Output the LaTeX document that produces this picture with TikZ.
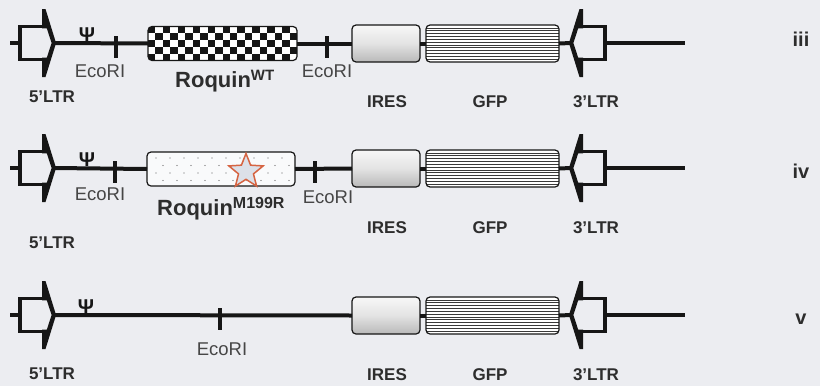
\documentclass[tikz,border=0pt]{standalone}
\usepackage{fontspec}
\setmainfont{Liberation Sans}
\usetikzlibrary{shapes.geometric,calc}
\definecolor{bg}{RGB}{236,237,241}
\definecolor{ink}{RGB}{22,22,22}
\definecolor{txt}{RGB}{45,45,45}
\definecolor{ecotxt}{RGB}{70,70,70}
\definecolor{starred}{RGB}{214,100,66}
\definecolor{starfill}{RGB}{220,224,232}
\tikzset{
  dna/.style={line width=4pt, draw=ink},
  cut/.style={line width=3.5pt, draw=ink},
  ltrline/.style={line width=3.6pt, draw=ink, line join=miter},
  part/.style={draw=ink, line width=1.2pt, rounded corners=4pt, inner sep=0pt, outer sep=0pt},
  ires/.style={part, top color=gray!6, bottom color=gray!55, middle color=gray!22},
  lbl/.style={font=\fontsize{17}{19}\selectfont\bfseries, text=txt, inner sep=0pt, anchor=base},
  eco/.style={font=\fontsize{18.5}{20}\selectfont, text=ecotxt, inner sep=0pt, anchor=base},
  gene/.style={font=\fontsize{22}{24}\selectfont\bfseries, text=txt, inner sep=0pt, anchor=base west},
  psi/.style={font=\fontsize{20}{22}\selectfont\bfseries, text=ink, inner sep=0pt, anchor=base},
  rowlbl/.style={font=\fontsize{20}{22}\selectfont\bfseries, text=txt, inner sep=0pt, anchor=base},
}
\newcommand{\ltrglyph}{%
  \draw[ltrline] (44,-16.5) -- (20,-16.5) -- (20,16.5) -- (44,16.5);
  \fill[ink] (42,-34) -- (45.5,-34) -- (55.5,-1.8) -- (55.5,1.8) -- (45.5,34) -- (42,34)
     -- (42,14.7) -- (46.8,14.7) -- (51.6,0) -- (46.8,-14.7) -- (42,-14.7) -- cycle;
}
\newcommand{\fiveltr}[1]{%
  \coordinate (#1stub) at (10,0);
  \coordinate (#1boxl) at (21,0);
  \coordinate (#1tip) at (54,0);
  \draw[dna] (#1stub) -- (#1boxl);
  \ltrglyph
}
\newcommand{\threeltr}[1]{%
  \begin{scope}[shift={(625,0)},xscale=-1]\ltrglyph\end{scope}
  \coordinate (#1tipb) at (571,0);
  \coordinate (#1boxr) at (604,0);
  \coordinate (#1end) at (685,0);
  \draw[dna] (#1boxr) -- (#1end);
}
\newcommand{\iresgfp}[1]{%
  \node[ires, minimum width=68pt, minimum height=37pt] (#1ires) at (386,0.5) {};
  \begin{scope}
    \clip[rounded corners=4pt] (426,-18) rectangle (559,19);
    \fill[white] (426,-18) rectangle (559,19);
    \foreach \k in {1,...,12} \draw[line width=0.7pt, ink!85] (426,{-18+\k*2.85}) -- (559,{-18+\k*2.85});
  \end{scope}
  \node[part, minimum width=133pt, minimum height=37pt] (#1gfp) at (492.5,0.5) {};
}
\begin{document}
\begin{tikzpicture}[x=1pt,y=-1pt]
\fill[bg] (0,0) rectangle (820,386);
\useasboundingbox (0,0) rectangle (820,386);

% ---------------- row iii ----------------
\begin{scope}[shift={(0,43)}]
  \fiveltr{a}
  \threeltr{a}
  \iresgfp{a}
  % checkered Roquin WT
  \begin{scope}
    \clip[rounded corners=4pt] (148,-16.5) rectangle (297,17.5);
    \fill[white] (148,-16.5) rectangle (297,17.5);
    \foreach \i in {0,...,19}{\foreach \j in {0,...,4}{%
      \pgfmathtruncatemacro\cellpar{mod(\i+\j,2)}%
      \ifnum\cellpar=0 \fill[ink] ({148+7.45*\i},{-16.5+6.8*\j}) rectangle ++(7.45,6.8);\fi}}
  \end{scope}
  \node[part, minimum width=149pt, minimum height=34pt] (ack) at (222.5,0.5) {};
  \draw[dna] (atip) -- (ack.west);
  \draw[dna] (ack.east) -- (aires.west);
  \draw[dna] (aires.east) -- (agfp.west);
  \draw[dna] (agfp.east) -- (atipb);
  \draw[cut] (116,-7) -- (116,15);
  \draw[cut] (327,-7) -- (327,15);
  \node[psi] (apsi) at (87,-1.5) {Ψ};
  \node[lbl] (a5) at (52,59) {5’LTR};
  \node[eco] (ae1) at (100,34) {EcoRI};
  \node[eco] (ae2) at (327,34) {EcoRI};
  \node[gene] (awt) at (175,44) {Roquin\raisebox{7pt}{\fontsize{15}{15}\selectfont WT}};
  \node[lbl] (ai) at (387,64) {IRES};
  \node[lbl] (ag) at (490,64) {GFP};
  \node[lbl] (a3) at (596,64) {3’LTR};
  \node[rowlbl] (aiii) at (801,3) {iii};
\end{scope}

% ---------------- row iv ----------------
\begin{scope}[shift={(0,168)}]
  \fiveltr{b}
  \threeltr{b}
  \iresgfp{b}
  \node[part, fill=white!70!bg, minimum width=148pt, minimum height=34pt] (bdot) at (221,1) {};
  \begin{scope}
    \clip (149,-15) rectangle (293,17);
    \foreach \j/\o in {-10/0,-2.5/7,5/0,12.5/7}{%
      \foreach \i in {0,...,10}{\fill[gray!75!black] ({156+\o+14*\i},\j) circle (0.65pt);}}
  \end{scope}
  \node[star, star points=5, star point ratio=2.3, draw=starred, fill=starfill, line width=1.5pt,
        minimum size=36pt, inner sep=0pt] (bstar) at (246,3.5) {};
  \draw[dna] (btip) -- (bdot.west);
  \draw[dna] (bdot.east) -- (bires.west);
  \draw[dna] (bires.east) -- (bgfp.west);
  \draw[dna] (bgfp.east) -- (btipb);
  \draw[cut] (115,-7) -- (115,15);
  \draw[cut] (315,-7) -- (315,15);
  \node[psi] (bpsi) at (87,-1.5) {Ψ};
  \node[eco] (be1) at (100,32) {EcoRI};
  \node[eco] (be2) at (328,35) {EcoRI};
  \node[gene] (bmut) at (157,47) {Roquin\raisebox{7pt}{\fontsize{16}{16}\selectfont M199R}};
  \node[lbl] (bi) at (387,65) {IRES};
  \node[lbl] (bg) at (490,65) {GFP};
  \node[lbl] (b3) at (596,65) {3’LTR};
  \node[lbl] (b5) at (52,80) {5’LTR};
  \node[rowlbl] (biv) at (801,10) {iv};
\end{scope}

% ---------------- row v ----------------
\begin{scope}[shift={(0,315)}]
  \fiveltr{c}
  \threeltr{c}
  \iresgfp{c}
  \draw[dna] (ctip) -- (cires.west);
  \draw[dna] (cires.east) -- (cgfp.west);
  \draw[dna] (cgfp.east) -- (ctipb);
  \draw[cut] (220,-7) -- (220,15);
  \node[psi] (cpsi) at (86,-1.5) {Ψ};
  \node[eco] (ce) at (222,40) {EcoRI};
  \node[lbl] (c5) at (52,64) {5’LTR};
  \node[lbl] (ci) at (387,65) {IRES};
  \node[lbl] (cg) at (490,65) {GFP};
  \node[lbl] (c3) at (596,65) {3’LTR};
  \node[rowlbl] (cv) at (801,9) {v};
\end{scope}
\end{tikzpicture}
\end{document}
